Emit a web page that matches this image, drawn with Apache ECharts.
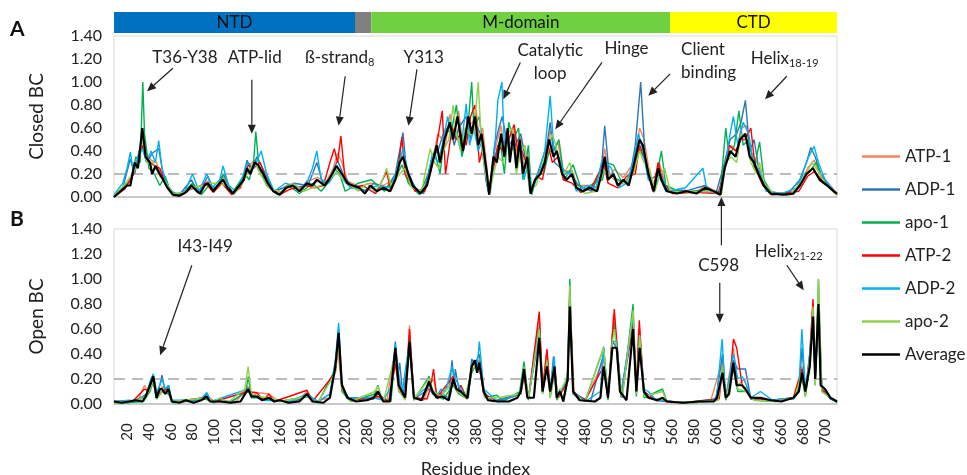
<!DOCTYPE html>
<html>
<head>
<meta charset="utf-8">
<script src="https://cdn.jsdelivr.net/npm/echarts@6/dist/echarts.min.js"></script>
<style>
  html, body { margin: 0; padding: 0; background: #fff; }
  #chart { width: 967px; height: 475px; }
</style>
</head>
<body>
<div id="chart"></div>
<script>
// x positions are residue positions with the missing linker (231-270) squeezed out,
// tick labels below give the real residue numbers
const xTickLabels = [20, 40, 60, 80, 100, 120, 140, 160, 180, 200, 220, 280, 300, 320, 340, 360, 380, 400, 420, 440, 460, 480, 500, 520, 540, 560, 580, 600, 620, 640, 660, 680, 700];
const xTickPos = xTickLabels.map((r) => (r > 230 ? r - 40 : r));
const xMin = 8;
const xMax = 671;

const seriesNames = ['ATP-1', 'ADP-1', 'apo-1', 'ATP-2', 'ADP-2', 'apo-2', 'Average'];
const seriesColors = ['#f7845e', '#2e75b6', '#00b050', '#ff0000', '#00b0f0', '#92d050', '#000000'];

const domainNames = ['NTD', '', 'M-domain', 'CTD'];
const domainEdges = [8, 229, 244, 518, 671];
const domainColors = ['#0070c0', '#808080', '#6fd040', '#ffff00'];

// ---- Closed BC ----
const closedAtp1 = [[8,0],[15,0.06],[21,0.12],[27,0.28],[31,0.3],[34,0.55],[38,0.38],[42,0.32],[47,0.3],[52,0.17],[58,0.08],[63,0.02],[72,0.04],[80,0.12],[86,0.04],[94,0.14],[100,0.06],[108,0.17],[117,0.04],[126,0.16],[131,0.27],[137,0.32],[141,0.25],[148,0.13],[156,0.04],[166,0.1],[173,0.12],[180,0.05],[186,0.14],[195,0.17],[202,0.12],[209,0.25],[213,0.38],[217,0.3],[222,0.14],[233,0.09],[243,0.12],[255,0.1],[266,0.16],[271,0.38],[274,0.3],[282,0.1],[290,0.04],[297,0.18],[301,0.36],[305,0.55],[309,0.5],[312,0.45],[316,0.72],[320,0.55],[324,0.75],[328,0.45],[333,0.62],[337,0.65],[340,0.76],[343,0.5],[346,0.6],[350,0.25],[352,0.04],[357,0.4],[363,0.62],[366,0.4],[369,0.58],[372,0.35],[375,0.6],[378,0.3],[381,0.52],[384,0.25],[387,0.4],[390,0.05],[399,0.22],[404,0.35],[408,0.58],[412,0.4],[415,0.48],[420,0.22],[428,0.23],[433,0.1],[444,0.1],[452,0.08],[458,0.42],[462,0.18],[467,0.24],[475,0.17],[485,0.3],[490,0.6],[494,0.5],[499,0.22],[503,0.06],[508,0.3],[515,0.06],[530,0.06],[542,0.04],[550,0.1],[564,0.03],[569,0.35],[574,0.45],[579,0.4],[583,0.6],[588,0.62],[592,0.4],[600,0.25],[606,0.08],[612,0.03],[630,0.04],[638,0.12],[644,0.25],[650,0.32],[656,0.18],[663,0.12],[671,0.03]];
const closedAdp1 = [[8,0.01],[16,0.08],[23,0.33],[27,0.2],[31,0.4],[34,0.45],[38,0.3],[43,0.38],[49,0.42],[53,0.2],[60,0.05],[68,0.02],[79,0.15],[86,0.03],[94,0.18],[100,0.05],[108,0.2],[117,0.03],[125,0.12],[130,0.32],[134,0.22],[139,0.35],[146,0.22],[154,0.05],[167,0.09],[173,0.12],[186,0.1],[194,0.3],[200,0.1],[207,0.18],[213,0.32],[218,0.2],[225,0.1],[240,0.05],[246,0.12],[258,0.08],[266,0.2],[273,0.56],[276,0.25],[284,0.08],[292,0.03],[300,0.35],[305,0.4],[310,0.55],[316,0.62],[320,0.45],[324,0.6],[331,0.7],[335,0.5],[339,0.65],[344,0.55],[349,0.15],[352,0.02],[357,0.45],[361,0.6],[364,0.7],[368,0.5],[372,0.4],[376,0.45],[381,0.55],[385,0.35],[390,0.03],[398,0.25],[405,0.45],[408,0.65],[412,0.3],[418,0.25],[426,0.2],[434,0.1],[446,0.05],[455,0.25],[458,0.62],[462,0.2],[470,0.15],[480,0.12],[486,0.45],[491,1.0],[495,0.35],[500,0.15],[507,0.2],[514,0.05],[535,0.06],[550,0.1],[560,0.03],[568,0.3],[573,0.5],[579,0.55],[583,0.65],[587,0.84],[591,0.4],[595,0.5],[600,0.2],[608,0.05],[625,0.02],[637,0.15],[643,0.3],[647,0.43],[651,0.35],[656,0.2],[664,0.1],[671,0.02]];
const closedApo1 = [[8,0],[18,0.1],[24,0.15],[28,0.35],[32,0.3],[34.4,1.0],[36,0.55],[40,0.25],[45,0.2],[50,0.1],[55,0.18],[60,0.04],[70,0.02],[80,0.12],[88,0.02],[95,0.1],[102,0.08],[109,0.2],[116,0.03],[128,0.2],[132,0.15],[136,0.3],[138,0.57],[141,0.25],[148,0.1],[158,0.02],[168,0.1],[178,0.03],[190,0.12],[198,0.05],[204,0.12],[210,0.25],[215,0.2],[220,0.05],[232,0.12],[244,0.15],[256,0.05],[268,0.2],[272,0.28],[278,0.12],[288,0.02],[296,0.2],[302,0.4],[307,0.2],[312,0.6],[317,0.55],[322,0.8],[327,0.35],[332,0.55],[336,1.0],[338,0.6],[343,0.7],[348,0.3],[352,0.05],[356,0.3],[362,0.5],[366,0.2],[370,0.65],[374,0.5],[379,0.6],[383,0.15],[388,0.45],[391,0.02],[396,0.2],[402,0.2],[407,0.4],[411,0.4],[416,0.5],[421,0.15],[429,0.28],[437,0.05],[448,0.12],[456,0.15],[459,0.3],[466,0.28],[474,0.12],[484,0.2],[490,0.42],[496,0.3],[503,0.04],[510,0.4],[514,0.1],[528,0.04],[546,0.06],[558,0.04],[564,0.05],[569,0.6],[572,0.35],[577,0.45],[581,0.75],[585,0.45],[590,0.5],[595,0.25],[600,0.48],[604,0.15],[612,0.02],[632,0.04],[640,0.2],[646,0.22],[652,0.3],[658,0.15],[666,0.06],[671,0.02]];
const closedAtp2 = [[8,0],[18,0.07],[26,0.2],[31,0.35],[34,0.45],[38,0.32],[44,0.28],[50,0.25],[56,0.1],[63,0.01],[76,0.06],[83,0.08],[92,0.12],[99,0.04],[107,0.12],[116,0.02],[124,0.08],[131,0.28],[136,0.25],[142,0.3],[150,0.1],[160,0.02],[170,0.07],[184,0.1],[192,0.08],[200,0.1],[206,0.3],[210,0.42],[213,0.3],[216,0.53],[220,0.15],[226,0.08],[236,0.1],[248,0.03],[258,0.22],[262,0.05],[268,0.2],[272,0.52],[275,0.2],[284,0.05],[293,0.05],[298,0.2],[303,0.4],[309,0.75],[312,0.2],[318,0.6],[322,0.5],[326,0.55],[331,0.45],[335,0.7],[339,0.8],[343,0.3],[347,0.45],[351,0.05],[356,0.25],[360,0.45],[365,0.4],[370,0.5],[375,0.63],[379,0.35],[382,0.4],[386,0.3],[390,0.04],[396,0.18],[401,0.15],[406,0.45],[410,0.3],[415,0.35],[420,0.15],[428,0.12],[436,0.04],[446,0.08],[457,0.3],[461,0.12],[470,0.08],[478,0.18],[486,0.2],[490,0.45],[496,0.3],[502,0.05],[507,0.3],[512,0.12],[520,0.03],[540,0.04],[562,0.03],[567,0.2],[572,0.45],[578,0.4],[583,0.5],[587,0.5],[592,0.6],[596,0.25],[603,0.1],[611,0.02],[636,0.05],[644,0.18],[650,0.22],[657,0.15],[664,0.08],[671,0.02]];
const closedAdp2 = [[8,0.02],[16,0.12],[20,0.25],[23,0.39],[26,0.2],[30,0.35],[34,0.42],[38,0.3],[42,0.4],[46,0.3],[49,0.49],[52,0.25],[57,0.1],[64,0.02],[73,0.05],[80,0.2],[86,0.05],[93,0.2],[98,0.08],[105,0.15],[108,0.27],[113,0.1],[120,0.05],[127,0.2],[131,0.3],[136,0.25],[143,0.4],[148,0.2],[155,0.05],[165,0.12],[172,0.1],[180,0.08],[186,0.15],[190,0.25],[194,0.4],[198,0.15],[205,0.12],[212,0.22],[218,0.15],[225,0.08],[238,0.06],[250,0.1],[262,0.08],[268,0.25],[273,0.42],[278,0.2],[286,0.05],[294,0.08],[300,0.38],[305,0.3],[309,0.45],[314,0.7],[318,0.5],[322,0.55],[326,0.4],[331,0.81],[334,0.45],[338,0.6],[342,0.4],[346,0.5],[350,0.1],[353,0.03],[357,0.4],[360,0.84],[363.7,1.0],[366,0.45],[370,0.45],[374,0.5],[377,0.3],[381,0.45],[384,0.15],[388,0.3],[391,0.05],[397,0.2],[403,0.4],[408,0.88],[411,0.45],[416,0.35],[421,0.2],[427,0.22],[432,0.05],[442,0.1],[450,0.08],[455,0.3],[459,0.3],[464,0.25],[471,0.08],[478,0.12],[484,0.3],[489,0.55],[493,0.4],[498,0.15],[505,0.1],[509,0.2],[516,0.05],[532,0.08],[548,0.25],[552,0.05],[563,0.03],[568,0.25],[573,0.55],[576,0.7],[580,0.45],[585,0.65],[590,0.55],[594,0.3],[600,0.22],[606,0.05],[620,0.03],[634,0.08],[641,0.25],[645,0.35],[650,0.44],[654,0.3],[660,0.15],[666,0.08],[671,0.02]];
const closedApo2 = [[8,0.01],[17,0.1],[25,0.2],[30,0.28],[34,0.5],[38,0.3],[44,0.3],[50,0.18],[56,0.12],[62,0.03],[72,0.04],[80,0.08],[90,0.1],[96,0.12],[104,0.12],[110,0.1],[118,0.02],[126,0.12],[131,0.22],[137,0.3],[142,0.2],[150,0.08],[162,0.04],[172,0.12],[182,0.05],[190,0.08],[198,0.1],[206,0.15],[212,0.22],[218,0.15],[225,0.1],[232,0.05],[240,0.12],[247,0.05],[253,0.12],[258,0.25],[262,0.1],[270,0.2],[275,0.25],[281,0.08],[290,0.05],[298,0.42],[302,0.3],[306,0.25],[310,0.4],[315,0.5],[319,0.8],[322,0.55],[326,0.4],[330,0.6],[334,0.55],[338,0.55],[342,1.0],[345,0.45],[348,0.25],[352,0.02],[356,0.2],[360,0.35],[365,0.3],[369,0.55],[373,0.6],[377,0.2],[381,0.4],[385,0.45],[389,0.05],[395,0.1],[400,0.25],[406,0.45],[410,0.55],[414,0.42],[419,0.18],[426,0.3],[431,0.1],[440,0.03],[450,0.05],[456,0.25],[460,0.2],[467,0.15],[476,0.12],[484,0.2],[490,0.4],[494,0.3],[499,0.25],[504,0.05],[509,0.2],[513,0.25],[518,0.05],[535,0.04],[555,0.05],[565,0.02],[569,0.3],[574,0.35],[579,0.3],[583,0.55],[588,0.5],[592,0.3],[597,0.2],[600,0.3],[604,0.12],[613,0.03],[628,0.02],[640,0.15],[648,0.3],[654,0.22],[660,0.12],[667,0.05],[671,0.02]];
const closedAvg = [[8,0],[14,0.05],[20,0.1],[23,0.1],[27,0.3],[30,0.25],[34,0.6],[37,0.35],[41,0.3],[43,0.2],[46,0.27],[50,0.2],[53,0.15],[57,0.08],[62,0.02],[68,0.01],[72,0.03],[75,0.05],[79,0.1],[84,0.05],[87,0.03],[91,0.1],[94,0.12],[99,0.05],[103,0.1],[108,0.15],[112,0.08],[117,0.03],[123,0.1],[127,0.15],[130,0.25],[133,0.2],[137,0.3],[140,0.28],[145,0.2],[149,0.12],[154,0.05],[160,0.02],[166,0.08],[172,0.1],[178,0.05],[185,0.12],[190,0.1],[194,0.15],[197,0.13],[201,0.1],[205,0.15],[208,0.2],[212,0.27],[217,0.2],[222,0.12],[227,0.1],[233,0.08],[238,0.03],[243,0.1],[249,0.05],[255,0.08],[261,0.05],[266,0.15],[270,0.3],[273,0.35],[278,0.2],[282,0.1],[289,0.03],[295,0.1],[300,0.3],[304,0.45],[307,0.3],[311,0.5],[316,0.65],[319,0.5],[323,0.7],[328,0.4],[333,0.7],[336,0.55],[339,0.7],[342,0.45],[345,0.55],[350,0.2],[352,0.02],[356,0.35],[359,0.3],[363,0.55],[366,0.35],[369,0.6],[371,0.3],[374,0.55],[377,0.25],[380,0.5],[383,0.2],[387,0.35],[390,0.03],[394,0.15],[399,0.2],[403,0.3],[407,0.5],[411,0.35],[414,0.4],[419,0.2],[423,0.15],[428,0.2],[432,0.08],[438,0.05],[444,0.08],[451,0.05],[455,0.2],[458,0.35],[461,0.15],[466,0.2],[470,0.1],[475,0.15],[480,0.1],[484,0.25],[490,0.5],[493,0.45],[498,0.2],[503,0.05],[507,0.25],[510,0.15],[515,0.05],[524,0.03],[533,0.05],[542,0.03],[550,0.08],[558,0.05],[564,0.02],[568,0.25],[573,0.4],[578,0.35],[582,0.5],[587,0.55],[591,0.35],[595,0.3],[599,0.2],[604,0.1],[610,0.03],[622,0.02],[631,0.03],[637,0.1],[643,0.2],[649,0.25],[655,0.15],[662,0.1],[668,0.05],[671,0.03]];

// ---- Open BC ----
const openAtp1 = [[8,0.02],[20,0.02],[30,0.03],[36,0.15],[39,0.1],[42,0.18],[45,0.2],[48,0.06],[52,0.14],[57,0.1],[62,0.02],[80,0.02],[93,0.07],[100,0.02],[120,0.02],[131,0.14],[135,0.07],[140,0.09],[150,0.08],[158,0.03],[175,0.02],[185,0.1],[192,0.02],[206,0.05],[211,0.35],[213,0.45],[216,0.2],[222,0.05],[240,0.03],[250,0.06],[258,0.02],[265,0.4],[269,0.1],[275,0.05],[279,0.63],[283,0.06],[292,0.03],[297,0.15],[301,0.2],[305,0.04],[318,0.18],[322,0.12],[330,0.05],[336,0.25],[339,0.3],[343,0.35],[348,0.08],[360,0.02],[380,0.08],[384,0.25],[388,0.04],[398,0.7],[401,0.1],[405,0.42],[408,0.1],[412,0.28],[415,0.05],[424,0.2],[426,0.85],[430,0.08],[440,0.02],[457,0.35],[461,0.05],[466,0.72],[469,0.5],[473,0.08],[484,0.7],[487,0.1],[489,0.6],[494,0.08],[505,0.03],[520,0.01],[555,0.02],[566,0.35],[569,0.05],[576,0.45],[580,0.15],[586,0.2],[592,0.04],[610,0.03],[631,0.05],[639,0.3],[642,0.1],[646,0.35],[649,0.8],[651,0.2],[654,0.85],[657,0.15],[665,0.05],[671,0.02]];
const openAdp1 = [[8,0.02],[22,0.02],[30,0.04],[38,0.08],[41,0.15],[44,0.24],[47,0.08],[50,0.15],[52,0.23],[55,0.1],[58,0.15],[61,0.02],[75,0.03],[90,0.05],[93,0.09],[97,0.02],[115,0.02],[131,0.1],[135,0.08],[145,0.03],[160,0.03],[170,0.01],[185,0.06],[195,0.02],[206,0.08],[211,0.3],[214,0.6],[217,0.12],[223,0.04],[246,0.04],[250,0.08],[260,0.02],[263,0.2],[266,0.5],[268,0.2],[270,0.33],[273,0.06],[279,0.45],[283,0.04],[297,0.12],[301,0.08],[309,0.08],[315,0.05],[318,0.35],[320,0.15],[321,0.28],[325,0.08],[333,0.05],[336,0.36],[339,0.32],[343,0.4],[347,0.1],[355,0.02],[380,0.08],[384,0.25],[388,0.05],[398,0.55],[401,0.1],[405,0.3],[408,0.08],[411,0.38],[414,0.05],[424,0.18],[426,0.8],[429,0.08],[445,0.02],[457,0.4],[461,0.04],[465,0.5],[469,0.45],[473,0.05],[484,0.62],[487,0.08],[490,0.55],[494,0.06],[510,0.03],[530,0.01],[560,0.04],[566,0.4],[569,0.05],[576,0.35],[580,0.28],[584,0.28],[587,0.28],[592,0.04],[610,0.03],[631,0.04],[636,0.1],[639,0.45],[642,0.08],[646,0.35],[649,0.7],[651,0.2],[654,0.7],[657,0.12],[665,0.04],[671,0.02]];
const openApo1 = [[8,0.01],[20,0.01],[35,0.02],[41,0.1],[44,0.18],[47,0.04],[52,0.1],[58,0.08],[62,0.01],[92,0.04],[100,0.01],[105,0.04],[115,0.01],[129,0.1],[131,0.22],[134,0.05],[140,0.05],[148,0.04],[160,0.02],[185,0.06],[195,0.01],[211,0.28],[214,0.5],[217,0.1],[225,0.02],[247,0.08],[250,0.15],[253,0.05],[262,0.02],[266,0.42],[270,0.1],[275,0.04],[279,0.55],[283,0.03],[297,0.22],[300,0.08],[310,0.04],[319,0.15],[324,0.08],[332,0.04],[336,0.25],[339,0.3],[343,0.3],[348,0.05],[359,0.07],[365,0.02],[380,0.1],[384,0.34],[388,0.03],[398,0.62],[401,0.08],[405,0.35],[408,0.05],[412,0.25],[414,0.03],[417,0.12],[420,0.02],[424,0.25],[426,1.0],[429,0.08],[440,0.02],[457,0.45],[461,0.03],[465,0.55],[467,0.65],[470,0.3],[474,0.05],[484,0.8],[487,0.06],[490,0.5],[494,0.05],[511,0.12],[515,0.02],[540,0.01],[562,0.03],[566,0.3],[569,0.03],[576,0.28],[580,0.1],[588,0.1],[595,0.03],[615,0.02],[632,0.05],[639,0.2],[642,0.06],[646,0.3],[649,0.75],[651,0.15],[654,1.0],[657,0.1],[665,0.05],[671,0.01]];
const openAtp2 = [[8,0.02],[25,0.02],[36,0.12],[40,0.1],[44,0.2],[47,0.05],[52,0.1],[57,0.12],[62,0.02],[93,0.05],[100,0.02],[131,0.1],[139,0.09],[145,0.03],[150,0.08],[155,0.02],[185,0.11],[190,0.02],[211,0.25],[214,0.5],[217,0.12],[225,0.03],[250,0.06],[260,0.02],[266,0.32],[270,0.12],[275,0.05],[279,0.6],[283,0.05],[295,0.04],[298,0.12],[301,0.28],[304,0.05],[319,0.22],[323,0.1],[326,0.15],[332,0.04],[336,0.3],[339,0.33],[343,0.3],[347,0.08],[360,0.02],[381,0.08],[384,0.22],[388,0.04],[398,0.74],[401,0.12],[405,0.44],[408,0.1],[412,0.3],[415,0.04],[424,0.18],[426,0.9],[429,0.1],[440,0.03],[457,0.3],[461,0.05],[466.8,0.76],[469,0.5],[473,0.08],[484,0.65],[487,0.1],[489.7,0.67],[494,0.1],[505,0.03],[530,0.01],[563,0.04],[566,0.3],[569,0.05],[573,0.2],[576,0.52],[579,0.45],[584,0.15],[592,0.05],[612,0.03],[631,0.05],[639,0.28],[642,0.1],[646,0.4],[649,0.84],[651,0.2],[654,0.75],[657,0.12],[665,0.05],[671,0.02]];
const openAdp2 = [[8,0.02],[22,0.03],[30,0.02],[38,0.08],[41,0.18],[44,0.24],[47,0.08],[50,0.15],[52,0.2],[55,0.12],[58,0.15],[61,0.03],[80,0.03],[88,0.04],[93,0.09],[97,0.02],[131,0.12],[135,0.07],[145,0.03],[170,0.02],[185,0.08],[195,0.02],[206,0.08],[211,0.35],[214,0.65],[217,0.15],[223,0.05],[246,0.05],[255,0.03],[263,0.15],[266,0.48],[269,0.25],[272,0.08],[279,0.5],[283,0.05],[297,0.15],[301,0.1],[305,0.08],[308,0.12],[312,0.1],[318,0.3],[321,0.2],[326,0.12],[332,0.05],[336,0.32],[339,0.35],[341,0.3],[343,0.5],[347,0.12],[360,0.02],[381,0.08],[384,0.25],[388,0.05],[398,0.6],[401,0.1],[405,0.32],[408,0.1],[411.7,0.38],[414,0.05],[424,0.2],[426,0.85],[429,0.1],[440,0.02],[454,0.1],[457,0.46],[461,0.05],[465,0.5],[469,0.5],[473,0.08],[484,0.7],[487,0.1],[490,0.55],[494,0.12],[498,0.1],[505,0.03],[530,0.01],[558,0.03],[561,0.08],[565.6,0.52],[569,0.05],[576,0.4],[580,0.2],[584,0.22],[588,0.15],[592,0.05],[600.7,0.1],[612,0.03],[631,0.05],[636,0.12],[638.8,0.6],[642,0.1],[646,0.4],[649,0.72],[651,0.2],[654,0.78],[657,0.15],[665,0.05],[671,0.02]];
const openApo2 = [[8,0.01],[25,0.02],[38,0.06],[41,0.12],[44,0.18],[47,0.04],[52,0.1],[58,0.1],[62,0.02],[93,0.05],[100,0.02],[105,0.05],[112,0.01],[128,0.12],[131,0.3],[134,0.08],[140,0.06],[150,0.05],[160,0.02],[185,0.06],[195,0.01],[211,0.25],[214,0.5],[217,0.12],[225,0.02],[247,0.1],[250,0.14],[255,0.02],[266,0.4],[270,0.1],[275,0.03],[279,0.5],[283,0.04],[297,0.2],[301,0.1],[308,0.06],[319,0.18],[323,0.1],[330,0.05],[336,0.28],[339,0.3],[343,0.3],[348,0.05],[359,0.05],[380,0.08],[384,0.3],[388,0.04],[398,0.6],[401,0.08],[405,0.35],[408,0.05],[412,0.28],[415,0.04],[417,0.1],[424,0.22],[426,0.95],[429,0.08],[440,0.02],[457,0.45],[461,0.05],[465,0.5],[467,0.6],[470,0.35],[474,0.05],[484,0.75],[487,0.08],[490,0.55],[494,0.06],[511,0.1],[515,0.02],[540,0.01],[562,0.03],[566,0.3],[569,0.04],[576,0.3],[580,0.12],[588,0.1],[595,0.03],[615,0.02],[632,0.05],[639,0.25],[642,0.06],[646,0.35],[649,0.78],[651,0.15],[654,1.0],[657,0.1],[665,0.05],[671,0.02]];
const openAvg = [[8,0.02],[15,0.01],[22,0.02],[28,0.03],[34,0.02],[37,0.06],[41,0.15],[44,0.22],[47,0.05],[50,0.12],[52,0.12],[55,0.08],[58,0.12],[61,0.02],[68,0.01],[74,0.03],[81,0.01],[88,0.03],[93,0.06],[96,0.02],[105,0.02],[115,0.01],[124,0.02],[131,0.12],[134,0.06],[139,0.06],[144,0.03],[150,0.05],[155,0.02],[160,0.03],[168,0.01],[178,0.02],[185,0.08],[190,0.02],[200,0.01],[206,0.05],[211,0.3],[214,0.57],[217,0.15],[222,0.05],[230,0.02],[240,0.03],[246,0.05],[250,0.1],[255,0.02],[261,0.02],[266,0.45],[269,0.15],[272,0.1],[275,0.05],[279,0.5],[283,0.05],[290,0.03],[297,0.18],[300,0.1],[304,0.05],[309,0.06],[315,0.03],[319,0.2],[322,0.12],[326,0.1],[332,0.05],[336,0.3],[339,0.35],[341,0.25],[343,0.33],[347,0.1],[351,0.03],[360,0.02],[370,0.02],[378,0.05],[381,0.1],[384,0.28],[387,0.05],[393,0.05],[398,0.53],[401,0.1],[405,0.3],[408,0.1],[412,0.3],[414,0.05],[417,0.1],[420,0.02],[424,0.2],[426,0.78],[429,0.1],[435,0.03],[449,0.02],[454,0.05],[457,0.3],[461,0.05],[465,0.45],[469,0.45],[472,0.1],[478,0.03],[484,0.6],[487,0.1],[490,0.45],[494,0.1],[498,0.05],[506,0.03],[511,0.05],[515,0.02],[530,0.01],[545,0.02],[558,0.02],[561,0.05],[566,0.25],[569,0.05],[572,0.08],[576,0.33],[579,0.15],[584,0.15],[587,0.12],[592,0.05],[601,0.05],[610,0.03],[620,0.02],[631,0.05],[636,0.1],[639,0.25],[642,0.1],[646,0.3],[649,0.7],[651,0.2],[654,0.8],[656,0.15],[660,0.12],[665,0.05],[671,0.02]];

const closedSeries = [closedAtp1, closedAdp1, closedApo1, closedAtp2, closedAdp2, closedApo2, closedAvg];
const openSeries = [openAtp1, openAdp1, openApo1, openAtp2, openAdp2, openApo2, openAvg];

// annotations in data coordinates: [grid, x, y, text, align]
const noteLabels = [
  [0, 73, 1.21, 'T36-Y38'],
  [0, 137, 1.21, 'ATP-lid'],
  [0, 215, 1.21, 'ß-strand{s|8}'],
  [0, 292, 1.21, 'Y313'],
  [0, 408, 1.17, 'Catalytic\nloop'],
  [0, 478, 1.29, 'Hinge'],
  [0, 528, 1.18, 'Client\nbinding', 'left'],
  [0, 623, 1.2, 'Helix{s|18-19}'],
  [1, 91.6, 1.26, 'I43-I49'],
  [1, 562.5, 1.11, 'C598'],
  [1, 626.7, 1.22, 'Helix{s|21-22}'],
];
// arrows: [gridFrom, x1, y1, gridTo, x2, y2]
const noteArrows = [
  [0, 62, 1.12, 0, 38.3, 0.92],
  [0, 134.4, 1.02, 0, 134.4, 0.55],
  [0, 220, 1.05, 0, 214, 0.62],
  [0, 285.8, 1.11, 0, 278, 0.62],
  [0, 380.6, 1.17, 0, 365, 0.85],
  [0, 455.5, 1.17, 0, 412.7, 0.59],
  [0, 518, 1.07, 0, 498, 0.88],
  [0, 625, 1.05, 0, 605, 0.85],
  [1, 79.4, 1.11, 1, 50.3, 0.39],
  [1, 563.5, 0.97, 1, 563.5, 0.65],
  [1, 565, 1.27, 0, 565, 0],
  [1, 625, 1.11, 1, 640.5, 0.91],
];

const FONT = 'Lato, "Noto Sans", sans-serif';
const chart = echarts.init(document.getElementById('chart'));

const gridBase = { left: 114, width: 723, show: true, borderColor: '#d9d9d9', borderWidth: 1, outerBoundsMode: 'none' };

function xAxisFor(idx, withLabels) {
  return {
    type: 'value', gridIndex: idx, min: xMin, max: xMax,
    show: idx !== 2,
    axisLine: { show: true, lineStyle: { color: '#bfbfbf', width: 1.5 } },
    axisTick: { show: false },
    splitLine: { show: false },
    axisLabel: withLabels ? {
      customValues: xTickPos,
      formatter: (v) => String(xTickLabels[xTickPos.indexOf(v)]),
      rotate: 90, align: 'center', margin: 28,
      fontSize: 15, fontFamily: FONT, color: '#222',
    } : { show: false },
    name: withLabels ? 'Residue index' : '',
    nameLocation: 'middle', nameGap: 56,
    nameTextStyle: { fontSize: 18, fontFamily: FONT, color: '#222' },
  };
}

function yAxisFor(idx, name) {
  if (idx === 2) return { type: 'value', gridIndex: 2, min: 0, max: 1, show: false };
  return {
    type: 'value', gridIndex: idx, min: 0, max: 1.4, interval: 0.2,
    axisLine: { show: false }, axisTick: { show: false }, splitLine: { show: false },
    axisLabel: { formatter: (v) => v.toFixed(2), fontSize: 16, fontFamily: FONT, color: '#222', margin: 12 },
    name, nameLocation: 'middle', nameGap: 68, nameRotate: 90,
    nameTextStyle: { fontSize: 19, fontFamily: FONT, color: '#222' },
  };
}

const series = [];
[closedSeries, openSeries].forEach((panel, p) => {
  panel.forEach((data, i) => {
    const isAvg = i === 6;
    series.push({
      name: seriesNames[i], type: 'line', xAxisIndex: p, yAxisIndex: p,
      data, symbol: 'none', showSymbol: false, z: 2 + i,
      lineStyle: { color: seriesColors[i], width: isAvg ? 2.2 : 1.4 },
      itemStyle: { color: seriesColors[i] },
      markLine: isAvg ? {
        silent: true, symbol: 'none', label: { show: false },
        lineStyle: { color: '#a6a6a6', type: [11, 7], width: 1.6 },
        data: [{ yAxis: 0.2 }],
      } : undefined,
    });
  });
});

series.push({
  name: 'domains', type: 'line', xAxisIndex: 2, yAxisIndex: 2,
  data: [[xMin, 0]], symbol: 'none', lineStyle: { opacity: 0 },
  markArea: {
    silent: true,
    data: domainNames.map((name, i) => [
      { name, xAxis: domainEdges[i], itemStyle: { color: domainColors[i], opacity: 1 },
        label: { show: true, position: 'inside', fontSize: 17, fontFamily: FONT, color: '#111' } },
      { xAxis: domainEdges[i + 1] },
    ]),
  },
});

chart.setOption({
  animation: false,
  backgroundColor: '#fff',
  grid: [
    Object.assign({}, gridBase, { top: 36, height: 161 }),
    Object.assign({}, gridBase, { top: 229, height: 175 }),
    { left: 114, width: 723, top: 12, height: 21, show: false, outerBoundsMode: 'none' },
  ],
  xAxis: [xAxisFor(0, false), xAxisFor(1, true), xAxisFor(2, false)],
  yAxis: [yAxisFor(0, 'Closed BC'), yAxisFor(1, 'Open BC'), yAxisFor(2)],
  legend: {
    data: seriesNames, orient: 'vertical', left: 857, top: 143,
    icon: 'rect', itemWidth: 38, itemHeight: 2.5, itemGap: 16,
    textStyle: { fontSize: 17, fontFamily: FONT, color: '#222' },
  },
  series,
});

function drawNotes() {
  const els = [];
  const rich = { s: { fontSize: 11, fontFamily: FONT, padding: [9, 0, 0, 0] } };
  noteLabels.forEach(([g, x, y, text, align]) => {
    const [px, py] = chart.convertToPixel({ gridIndex: g }, [x, y]);
    els.push({
      type: 'text', x: px, y: py, z: 50,
      style: { text, align: align || 'center', verticalAlign: 'middle', fontSize: 17, fontFamily: FONT, fill: '#222', lineHeight: 23, rich },
    });
  });
  noteArrows.forEach(([g1, x1, y1, g2, x2, y2]) => {
    const a = chart.convertToPixel({ gridIndex: g1 }, [x1, y1]);
    const b = chart.convertToPixel({ gridIndex: g2 }, [x2, y2]);
    const ang = Math.atan2(b[1] - a[1], b[0] - a[0]);
    const L = 9, W = 4;
    const bx = b[0] - L * Math.cos(ang), by = b[1] - L * Math.sin(ang);
    els.push({ type: 'line', z: 50, shape: { x1: a[0], y1: a[1], x2: bx, y2: by }, style: { stroke: '#222', lineWidth: 1.2 } });
    els.push({ type: 'polygon', z: 50, shape: { points: [b, [bx - W * Math.sin(ang), by + W * Math.cos(ang)], [bx + W * Math.sin(ang), by - W * Math.cos(ang)]] }, style: { fill: '#222' } });
  });
  els.push({ type: 'text', left: 10, top: 19, style: { text: 'A', fontSize: 21, fontWeight: 'bold', fontFamily: FONT, fill: '#111' } });
  els.push({ type: 'text', left: 10, top: 209, style: { text: 'B', fontSize: 21, fontWeight: 'bold', fontFamily: FONT, fill: '#111' } });
  chart.setOption({ graphic: els });
}
drawNotes();
</script>
</body>
</html>
